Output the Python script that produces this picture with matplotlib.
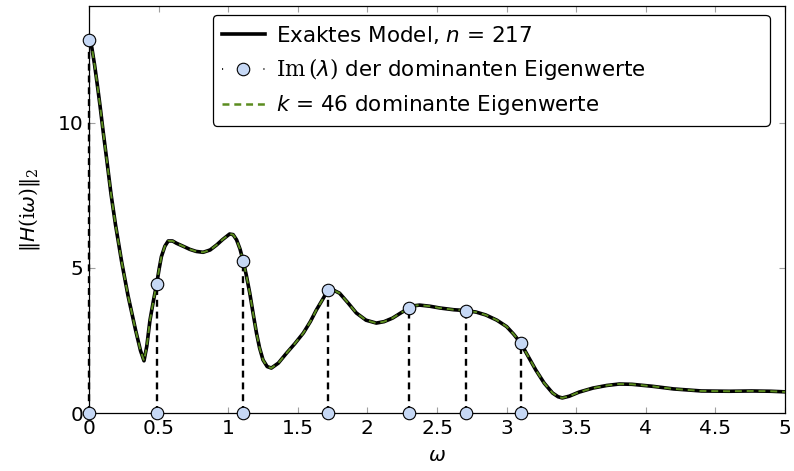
import matplotlib
matplotlib.use("Agg")
from matplotlib import pyplot as plt
from matplotlib.lines import Line2D
import numpy as np

# frequency response
omega = [0, 0.02, 0.04, 0.06, 0.079, 0.103, 0.127, 0.158, 0.19, 0.235, 0.28,
         0.335, 0.37, 0.395, 0.415, 0.438, 0.462, 0.486, 0.505, 0.52, 0.545,
         0.569, 0.6, 0.629, 0.68, 0.725, 0.77, 0.82, 0.87, 0.916, 0.96, 1.01,
         1.035, 1.06, 1.085, 1.107, 1.13, 1.155, 1.18, 1.203, 1.225, 1.25,
         1.28, 1.31, 1.36, 1.42, 1.48, 1.54, 1.59, 1.633, 1.68, 1.717, 1.75,
         1.80, 1.86, 1.92, 1.99, 2.064, 2.12, 2.18, 2.24, 2.30, 2.34, 2.375,
         2.45, 2.52, 2.62, 2.71, 2.78, 2.85, 2.93, 3.0, 3.05, 3.10, 3.155,
         3.21, 3.27, 3.33, 3.37, 3.40, 3.45, 3.52, 3.62, 3.72, 3.81, 3.9,
         4.05, 4.2, 4.4, 4.6, 4.76, 4.9, 5.0]
H_norm = [12.86, 12.6, 12.0, 11.3, 10.6, 9.65, 8.75, 7.55, 6.5, 5.2, 4.05,
          2.85, 2.15, 1.8, 2.3, 3.2, 3.85, 4.45, 5.0, 5.39, 5.75,
          5.93, 5.93, 5.85, 5.74, 5.64, 5.57, 5.54, 5.62, 5.79, 5.98, 6.17,
          6.15, 5.97, 5.65, 5.25, 4.75, 4.13, 3.4, 2.76, 2.25, 1.83,
          1.6, 1.55, 1.72, 2.07, 2.4, 2.76, 3.15, 3.55, 3.93, 4.24, 4.25,
          4.13, 3.8, 3.45, 3.2, 3.1, 3.15, 3.27, 3.45, 3.62, 3.7, 3.72,
          3.68, 3.62, 3.56, 3.53, 3.48, 3.38, 3.2, 2.98, 2.72, 2.42, 1.95,
          1.48, 1.03, 0.69, 0.56, 0.52, 0.58, 0.72, 0.86, 0.95, 1.0, 0.99,
          0.92, 0.83, 0.76, 0.75, 0.76, 0.75, 0.73]

# imaginary parts of the dominant eigenvalues and the response there
eig_im = [0, 0.486, 1.107, 1.717, 2.30, 2.71, 3.10]
eig_H = [12.86, 4.45, 5.25, 4.24, 3.62, 3.53, 2.42]

plt.rcParams['lines.scale_dashes'] = False
plt.rcParams['mathtext.fontset'] = 'custom'
plt.rcParams['mathtext.rm'] = 'DejaVu Serif'
plt.rcParams['mathtext.it'] = 'DejaVu Sans:italic'
plt.rcParams['mathtext.sf'] = 'DejaVu Sans'
plt.rcParams['font.family'] = 'DejaVu Sans'

fs = 14.5
lfs = 15.5
green = '#5b8c1f'
mfill = '#c6d8f5'
ms = 9

fig = plt.figure(figsize=(7.94, 4.71), dpi=100)
ax = fig.add_axes([0.1121, 0.1231, 0.8766, 0.8642])

for x, h in zip(eig_im, eig_H):
    ax.plot([x, x], [0, h], color='black', lw=1.7, dashes=(5, 3.5), zorder=2,
            clip_on=False)

ax.plot(omega, H_norm, color='black', lw=2.6, zorder=3, solid_capstyle='round',
        solid_joinstyle='round')
ax.plot(omega, H_norm, color=green, lw=1.4, dashes=(5, 3.5), zorder=4)

ax.plot(eig_im, eig_H, 'o', ms=ms, mfc=mfill, mec='black', mew=0.8,
        zorder=5, clip_on=False)
ax.plot(eig_im, [0] * len(eig_im), 'o', ms=ms, mfc=mfill, mec='black',
        mew=0.8, zorder=5, clip_on=False)

ax.set_xlim(0, 5)
ax.set_ylim(0, 14.03)
ax.set_xticks([0, 0.5, 1, 1.5, 2, 2.5, 3, 3.5, 4, 4.5, 5])
ax.set_xticklabels(['0', '0.5', '1', '1.5', '2', '2.5', '3', '3.5', '4', '4.5', '5'])
ax.set_yticks([0, 5, 10])
ax.tick_params(direction='in', length=4.5, width=0.8, color='#a0a0a0',
               top=True, right=True, labelsize=fs, pad=4)
for s in ax.spines.values():
    s.set_linewidth(0.9)

ax.set_xlabel(r'$\omega$', fontsize=fs, labelpad=6)
ax.set_ylabel(r'$\|H(\mathrm{i}\omega)\|_2$', fontsize=fs, labelpad=11)

h1 = Line2D([], [], color='black', lw=2.6)
h2 = Line2D([], [], color='black', lw=1.2, dashes=(0.8, 29), marker='o',
            ms=ms, mfc=mfill, mec='black', mew=0.8)
h3 = Line2D([], [], color=green, lw=1.8, dashes=(5, 3.5))
leg = ax.legend([h1, h2, h3],
                ['Exaktes Model, $n$ = 217',
                 r'$\mathrm{Im}\,(\lambda)$ der dominanten Eigenwerte',
                 '$k$ = 46 dominante Eigenwerte'],
                loc='upper left', bbox_to_anchor=(0.178, 0.2, 0.8, 0.778),
                mode='expand', borderaxespad=0, fontsize=lfs,
                handlelength=2.0, handletextpad=0.55, labelspacing=0.5,
                borderpad=0.4, fancybox=True, framealpha=1,
                edgecolor='black')
leg.get_frame().set_linewidth(0.9)

fig.savefig('out.png', dpi=100)
